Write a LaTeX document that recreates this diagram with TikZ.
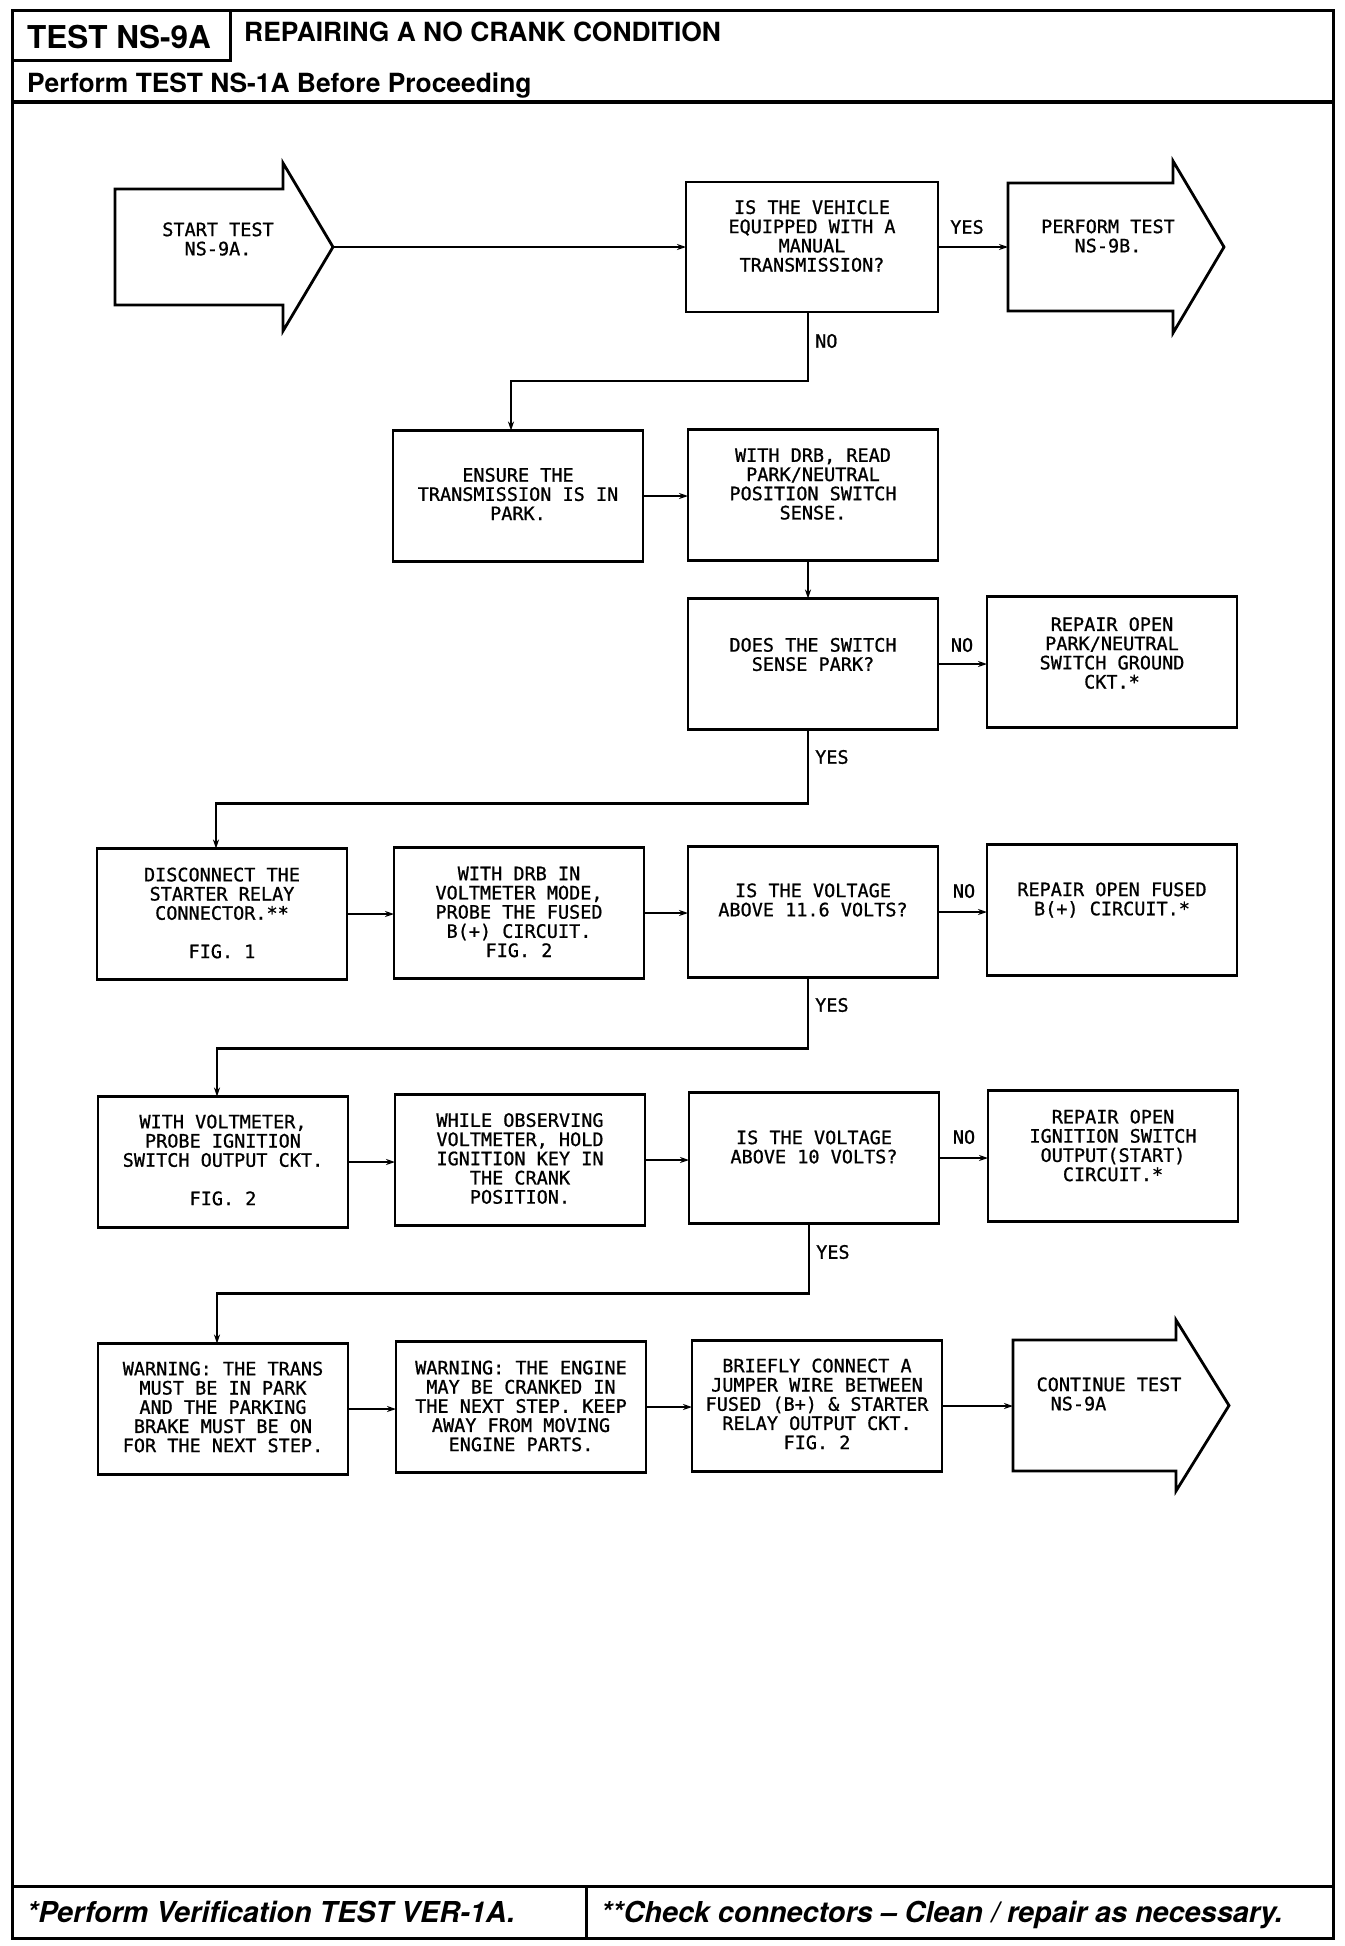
\documentclass[tikz,border=0pt]{standalone}
\usepackage{fontspec}
\setmainfont{TeX Gyre Heros}
\newfontfamily\plotfont[FakeBold=0.9]{DejaVu Sans Mono}
\usetikzlibrary{arrows.meta}
\tikzset{
  box/.style={draw, line width=2.8pt, minimum width=250pt, minimum height=131pt, inner sep=0pt, outer sep=0pt},
  ghostbox/.style={inner sep=0pt, outer sep=0pt},
  btxt/.style={font=\plotfont\fontsize{18.5}{19.2}\selectfont, align=center, inner sep=0pt},
  lbl/.style={font=\plotfont\fontsize{18.5}{19.2}\selectfont, inner sep=0pt},
  conn/.style={line width=2.2pt, -{Stealth[length=9pt,width=6pt]}},
  shp/.style={line width=2.8pt, line join=miter},
  frm/.style={line width=3pt},
  hdr/.style={font=\bfseries\fontsize{26.4}{30}\selectfont, inner sep=0pt},
  ftr/.style={font=\bfseries\itshape\fontsize{28.8}{32}\selectfont, inner sep=0pt}
}
\begin{document}
\begin{tikzpicture}[x=1pt,y=-1pt]
\useasboundingbox (0,0) rectangle (1344,1946);
\fill[white] (0,0) rectangle (1344,1946);
% frame and header/footer
\draw[frm] (12,10) rectangle (1333,1938);
\draw[frm] (12,10) rectangle (230,60);
\draw[line width=3.5pt] (12,102) -- (1333,102);
\draw[frm] (12,1886) -- (1333,1886);
\draw[frm] (586,1886) -- (586,1938);
\node[font=\bfseries\fontsize{31.5}{36}\selectfont, inner sep=0pt, anchor=west] (ttl) at (27,37) {TEST NS-9A};
\node[hdr, anchor=west] (sub) at (244,32) {REPAIRING A NO CRANK CONDITION};
\node[hdr, anchor=base west] (pre) at (27,92.5) {Perform TEST NS-1A Before Proceeding};
\node[ftr, anchor=base west] (f1) at (27,1922) {*Perform Verification TEST VER-1A.};
\node[ftr, anchor=base west] (f2) at (601,1922) {**Check connectors – Clean / repair as necessary.};

% start arrow
\node[ghostbox, minimum width=168pt, minimum height=116pt] (start) at (199,247) {};
\coordinate (starttip) at (333,247);
\draw[shp] (start.north west) -- (start.north east) -- ++(0,-26) -- (starttip) -- ([yshift=-26pt]start.south east) -- (start.south east) -- (start.south west) -- cycle;
\node[btxt] (startt) at (218,239) {START TEST\\NS-9A.};

% Q1
\node[box, minimum width=252pt, minimum height=130pt] (q1) at (812,247) {};
\node[btxt] (q1t) at ([yshift=11pt]q1.center) {IS THE VEHICLE\\EQUIPPED WITH A\\MANUAL\\TRANSMISSION?};
\draw[conn] (starttip) -- (q1.west);

% NS-9B arrow
\node[ghostbox, minimum width=165pt, minimum height=128pt] (ns9b) at (1090.5,247) {};
\coordinate (ns9btip) at (1224,247);
\draw[shp] (ns9b.north west) -- (ns9b.north east) -- ++(0,-22) -- (ns9btip) -- ([yshift=-22pt]ns9b.south east) -- (ns9b.south east) -- (ns9b.south west) -- cycle;
\node[btxt] (ns9bt) at (1108,236) {PERFORM TEST\\NS-9B.};
\draw[conn] (q1.east) -- (ns9b.west);
\node[lbl] (yes1) at (967,227) {YES};

% row 2
\node[box] (ens) at (518,496) {};
\node[btxt] (enst) at ([yshift=2pt]ens.center) {ENSURE THE\\TRANSMISSION IS IN\\PARK.};
\node[box] (drb) at (813,495) {};
\node[btxt] (drbt) at ([yshift=11pt]drb.center) {WITH DRB, READ\\PARK/NEUTRAL\\POSITION SWITCH\\SENSE.};
\draw[conn] ([xshift=-4pt]q1.south) -- ++(0,69) -| ([xshift=-7pt]ens.north);
\node[lbl, anchor=west] (no1) at (815,341) {NO};
\draw[conn] (ens.east) -- (ens.east -| drb.west);

% row DOES
\node[box] (does) at (813,664) {};
\node[btxt] (doest) at ([yshift=9.5pt]does.center) {DOES THE SWITCH\\SENSE PARK?};
\node[box] (reppark) at (1112,662) {};
\node[btxt] (repparkt) at ([yshift=9pt]reppark.center) {REPAIR OPEN\\PARK/NEUTRAL\\SWITCH GROUND\\CKT.*};
\draw[conn] ([xshift=-5pt]drb.south) -- ([xshift=-5pt]drb.south |- does.north);
\draw[conn] (does.east) -- (does.east -| reppark.west);
\node[lbl] (no2) at (962,645) {NO};

% row 3
\node[box] (disc) at (222,914) {};
\node[btxt] (disct) at ([yshift=1pt]disc.center) {DISCONNECT THE\\STARTER RELAY\\CONNECTOR.**\\[19.2pt]FIG. 1};
\node[box] (drbin) at (519,913) {};
\node[btxt] (drbint) at ([yshift=1pt]drbin.center) {WITH DRB IN\\VOLTMETER MODE,\\PROBE THE FUSED\\B(+) CIRCUIT.\\FIG. 2};
\node[box] (v116) at (813,912) {};
\node[btxt] (v116t) at ([yshift=12pt]v116.center) {IS THE VOLTAGE\\ABOVE 11.6 VOLTS?};
\node[box] (repfused) at (1112,910) {};
\node[btxt] (repfusedt) at ([yshift=10pt]repfused.center) {REPAIR OPEN FUSED\\B(+) CIRCUIT.*};
\draw[conn] ([xshift=-5pt]does.south) -- ++(0,74) -| ([xshift=-6pt]disc.north);
\node[lbl, anchor=west] (yes2) at (815,757) {YES};
\draw[conn] (disc.east) -- (disc.east -| drbin.west);
\draw[conn] (drbin.east) -- (drbin.east -| v116.west);
\draw[conn] (v116.east) -- (v116.east -| repfused.west);
\node[lbl] (no3) at (964,891) {NO};

% row 4
\node[box] (voltm) at (223,1162) {};
\node[btxt] (voltmt) at ([yshift=2pt]voltm.center) {WITH VOLTMETER,\\PROBE IGNITION\\SWITCH OUTPUT CKT.\\[19.2pt]FIG. 2};
\node[box] (while) at (520,1160) {};
\node[btxt] (whilet) at ([yshift=1.5pt]while.center) {WHILE OBSERVING\\VOLTMETER, HOLD\\IGNITION KEY IN\\THE CRANK\\POSITION.};
\node[box] (v10) at (814,1158) {};
\node[btxt] (v10t) at ([yshift=11pt]v10.center) {IS THE VOLTAGE\\ABOVE 10 VOLTS?};
\node[box] (repign) at (1113,1156) {};
\node[btxt] (repignt) at ([yshift=10.5pt]repign.center) {REPAIR OPEN\\IGNITION SWITCH\\OUTPUT(START)\\CIRCUIT.*};
\draw[conn] ([xshift=-5pt]v116.south) -- ++(0,71) -| ([xshift=-6pt]voltm.north);
\node[lbl, anchor=west] (yes3) at (815,1005) {YES};
\draw[conn] (voltm.east) -- (voltm.east -| while.west);
\draw[conn] (while.east) -- (while.east -| v10.west);
\draw[conn] (v10.east) -- (v10.east -| repign.west);
\node[lbl] (no4) at (964,1137) {NO};

% row 5
\node[box] (warn1) at (223,1409) {};
\node[btxt] (warn1t) at ([yshift=2pt]warn1.center) {WARNING: THE TRANS\\MUST BE IN PARK\\AND THE PARKING\\BRAKE MUST BE ON\\FOR THE NEXT STEP.};
\node[box] (warn2) at (521,1407) {};
\node[btxt] (warn2t) at ([yshift=1pt]warn2.center) {WARNING: THE ENGINE\\MAY BE CRANKED IN\\THE NEXT STEP. KEEP\\AWAY FROM MOVING\\ENGINE PARTS.};
\node[box] (brief) at (817,1406) {};
\node[btxt] (brieft) at ([yshift=2pt]brief.center) {BRIEFLY CONNECT A\\JUMPER WIRE BETWEEN\\FUSED (B+) \& STARTER\\RELAY OUTPUT CKT.\\FIG. 2};
\node[ghostbox, minimum width=163pt, minimum height=131pt] (cont) at (1094.5,1405.5) {};
\coordinate (conttip) at (1229,1405.5);
\draw[shp] (cont.north west) -- (cont.north east) -- ++(0,-20) -- (conttip) -- ([yshift=-20pt]cont.south east) -- (cont.south east) -- (cont.south west) -- cycle;
\node[btxt, align=left] (contt) at (1109,1394) {CONTINUE TEST\\\hspace*{14pt}NS-9A};
\draw[conn] ([xshift=-5pt]v10.south) -- ++(0,70) -| ([xshift=-6pt]warn1.north);
\node[lbl, anchor=west] (yes4) at (816,1252) {YES};
\draw[conn] (warn1.east) -- (warn1.east -| warn2.west);
\draw[conn] (warn2.east) -- (warn2.east -| brief.west);
\draw[conn] (brief.east) -- (brief.east -| cont.west);
\end{tikzpicture}
\end{document}
